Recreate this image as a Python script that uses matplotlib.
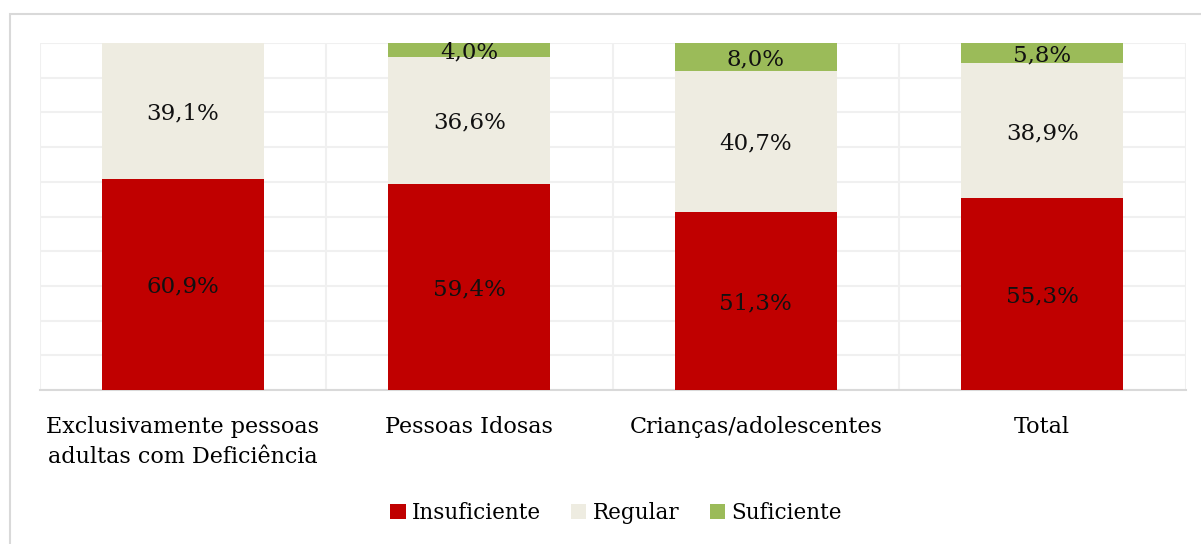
import numpy as np
import matplotlib
matplotlib.use('Agg')
import matplotlib.pyplot as plt
from matplotlib.patches import Patch, Rectangle

plt.rcParams['font.family'] = ['DejaVu Serif']

# data
CATEGORIES = ['Exclusivamente pessoas\nadultas com Deficiência', 'Pessoas Idosas',
              'Crianças/adolescentes', 'Total']
SERIES = ['Insuficiente', 'Regular', 'Suficiente']
INSUFICIENTE = [60.9, 59.4, 51.3, 55.3]
REGULAR = [39.1, 36.6, 40.7, 38.9]
SUFICIENTE = [0.0, 4.0, 8.0, 5.8]
COLORS = ['#C00000', '#EEECE1', '#9BBB59']

fig = plt.figure(figsize=(12.01, 5.44), dpi=100)
fig.patches.append(Rectangle((10 / 1201, -0.1), 1.2, (544 - 14) / 544 + 0.1,
                             transform=fig.transFigure, fill=False,
                             edgecolor='#D9D9D9', lw=1.5))

ax = fig.add_axes([39.5 / 1201, (544 - 390) / 544, 1146 / 1201, 347 / 544])

x = np.arange(len(CATEGORIES))
bottom = np.zeros(len(CATEGORIES))
for vals, name, col in zip([INSUFICIENTE, REGULAR, SUFICIENTE], SERIES, COLORS):
    vals = np.array(vals)
    ax.bar(x, vals, bottom=bottom, width=0.565, color=col, label=name, zorder=3)
    for xi, b, v in zip(x, bottom, vals):
        if v > 0:
            ax.text(xi, b + v / 2, f'{v:.1f}%'.replace('.', ','), ha='center',
                    va='center_baseline', fontsize=16.5, color='#111111', zorder=4)
    bottom += vals

ax.set_xlim(-0.5, len(CATEGORIES) - 0.5)
ax.set_ylim(0, 100)
ax.set_yticks(np.arange(0, 101, 10))
ax.set_yticklabels([])
ax.tick_params(axis='y', length=0)
ax.set_xticks(x)
ax.set_xticklabels(CATEGORIES, fontsize=16, linespacing=1.45)
ax.tick_params(axis='x', length=0, pad=19)
ax.set_xticks(np.arange(-0.5, len(CATEGORIES)), minor=True)
ax.tick_params(axis='x', which='minor', length=0)
ax.grid(axis='y', color='#F0F0F0', lw=1.5, zorder=0)
ax.grid(axis='x', which='minor', color='#F0F0F0', lw=1.5, zorder=0)
for s in ['top', 'right', 'left']:
    ax.spines[s].set_visible(False)
ax.spines['bottom'].set_color('#D9D9D9')
ax.spines['bottom'].set_linewidth(1.5)

handles = [Patch(facecolor=c) for c in COLORS]
fig.legend(handles, SERIES, loc='center', bbox_to_anchor=(616 / 1201, (544 - 513) / 544),
           ncol=3, frameon=False, fontsize=15.5, handlelength=0.7, handleheight=0.7,
           handletextpad=0.3, columnspacing=1.4)

fig.savefig('out.png', dpi=100, facecolor='white')
